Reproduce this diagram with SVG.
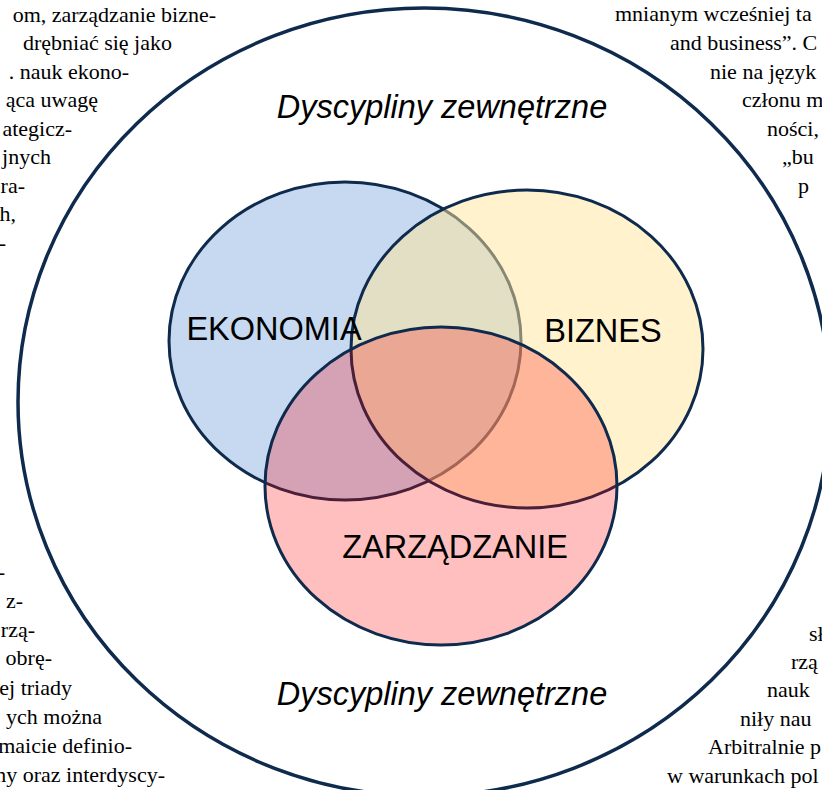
<svg xmlns="http://www.w3.org/2000/svg" width="822" height="790" viewBox="0 0 822 790">
<style>
.pg{font-family:"Liberation Serif","Times New Roman",serif;font-size:22px;fill:#000}
.e{text-anchor:end}
.lbl{font-family:"Liberation Sans",Arial,sans-serif;font-size:32.5px;fill:#000;text-anchor:middle}
.ext{font-family:"Liberation Sans",Arial,sans-serif;font-size:32.5px;font-style:italic;fill:#000;text-anchor:middle}
.ring{stroke:#0e2a4d;stroke-width:3}
</style>
<rect width="822" height="790" fill="#fff"/>
<g id="page-text" class="pg">
<text class="e" x="216" y="22">om, zarządzanie bizne-</text>
<text class="e" x="172" y="50">drębniać się jako</text>
<text class="e" x="129" y="79">. nauk ekono-</text>
<text class="e" x="98" y="107">ąca uwagę</text>
<text class="e" x="72" y="136">ategicz-</text>
<text class="e" x="51" y="164">jnych</text>
<text class="e" x="25" y="193">ora-</text>
<text class="e" x="16" y="221">h,</text>
<text class="e" x="6" y="250">-</text>
<text x="615" y="21">mnianym wcześniej ta</text>
<text x="670" y="50">and business”. C</text>
<text x="710" y="79">nie na język</text>
<text x="742" y="107">członu m</text>
<text x="767" y="136">ności,</text>
<text x="782" y="164">„bu</text>
<text x="798" y="193">p</text>
<text class="e" x="5" y="579">-</text>
<text class="e" x="23" y="608">z-</text>
<text class="e" x="35" y="637">rzą-</text>
<text class="e" x="52" y="665">obrę-</text>
<text class="e" x="72" y="695">ej triady</text>
<text class="e" x="102" y="724">ych można</text>
<text class="e" x="132" y="753">maicie definio-</text>
<text class="e" x="165" y="782">ny oraz interdyscy-</text>
<text x="809" y="641">sł</text>
<text x="791" y="669">rzą</text>
<text x="767" y="697">nauk</text>
<text x="740" y="726">niły  nau</text>
<text x="708" y="754">Arbitralnie p</text>
<text x="667" y="783">w warunkach pol</text>
</g>
<g id="zewnetrzne">
<ellipse cx="424" cy="402" rx="406" ry="394" fill="#fff" stroke="#0e2a4d" stroke-width="3.5"/>
<text class="ext" x="442" y="118">Dyscypliny zewnętrzne</text>
<text class="ext" x="442" y="705">Dyscypliny zewnętrzne</text>
</g>
<g id="ekonomia">
<ellipse class="ring" cx="345" cy="341" rx="176" ry="159" fill="#c6d9f0"/>
</g>
<g id="biznes">
<ellipse class="ring" cx="527" cy="349" rx="176" ry="159" fill="#ffe699" fill-opacity="0.5"/>
</g>
<g id="zarzadzanie">
<ellipse class="ring" cx="441" cy="486" rx="176" ry="159" fill="#ff0000" fill-opacity="0.25"/>
</g>
<g id="labels">
<text class="lbl" x="274" y="340">EKONOMIA</text>
<text class="lbl" x="603" y="342">BIZNES</text>
<text class="lbl" x="455" y="558">ZARZĄDZANIE</text>
</g>
</svg>
